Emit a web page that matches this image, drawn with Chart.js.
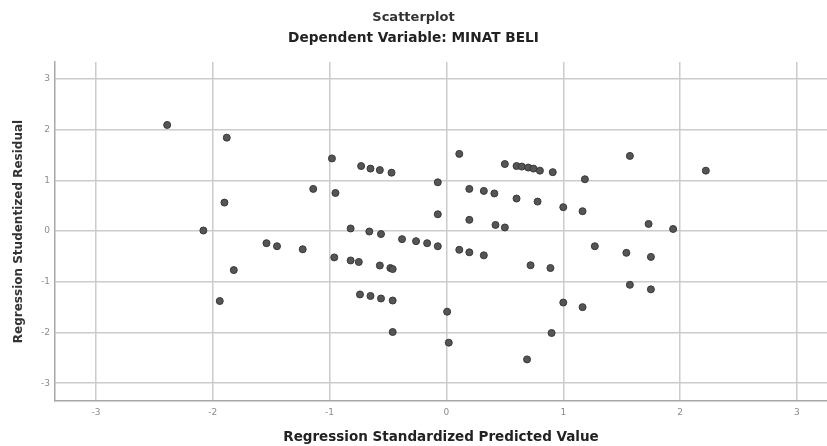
<!DOCTYPE html>
<html>
<head>
<meta charset="utf-8">
<title>Scatterplot</title>
<script src="https://cdn.jsdelivr.net/npm/chart.js@4"></script>
<style>
  html, body { margin: 0; padding: 0; background: #fff; }
  #wrap { width: 827px; height: 446px; }
</style>
</head>
<body>
<div id="wrap"><canvas id="myChart" width="827" height="446"></canvas></div>
<script>
// values
const predicted = [
  -2.39, -1.88, -0.98, -1.14, -0.95, -1.90, -2.08, -1.54, -1.45, -1.23,
  -1.82, -1.94, -0.96, -0.82, -0.75, -0.57, -0.48, -0.46, -0.74, -0.65,
  -0.56, -0.46, -0.46, -0.82, -0.66, -0.56, -0.38, -0.26, -0.165, -0.074,
  -0.73, -0.65, -0.57, -0.47, 0.11, -0.074, 0.196, 0.32, -0.074, 0.196,
  0.11, 0.196, 0.32, 0.50, 0.60, 0.645, 0.70, 0.745, 0.80, 0.91,
  1.185, 0.41, 0.60, 0.78, 1.0, 1.165, 0.42, 0.50, 1.27, 0.72,
  0.89, 0.006, 0.02, 1.0, 1.165, 0.90, 0.69, 1.57, 1.57, 2.22,
  1.73, 1.94, 1.54, 1.75, 1.75
];
const residual = [
  2.09, 1.84, 1.43, 0.83, 0.75, 0.56, 0.01, -0.24, -0.30, -0.36,
  -0.77, -1.38, -0.52, -0.58, -0.61, -0.68, -0.73, -0.75, -1.25, -1.28,
  -1.33, -1.37, -1.99, 0.05, -0.01, -0.06, -0.16, -0.20, -0.24, -0.30,
  1.28, 1.23, 1.20, 1.15, 1.52, 0.96, 0.83, 0.79, 0.33, 0.22,
  -0.37, -0.42, -0.48, 1.32, 1.28, 1.27, 1.25, 1.23, 1.19, 1.16,
  1.02, 0.74, 0.64, 0.58, 0.47, 0.39, 0.12, 0.07, -0.30, -0.675,
  -0.73, -1.59, -2.20, -1.41, -1.50, -2.01, -2.53, -1.06, 1.48, 1.19,
  0.14, 0.04, -0.43, -0.51, -1.15
];
const xTicks = [-3, -2, -1, 0, 1, 2, 3];
const yTicks = [-3, -2, -1, 0, 1, 2, 3];

const points = [];
for (let i = 0; i < predicted.length; i++) {
  points.push({ x: predicted[i], y: residual[i] });
}

// keep the plot area flush with the canvas edges (no label padding)
function noPad(scale) {
  scale.paddingLeft = 0;
  scale.paddingRight = 0;
  scale.paddingTop = 0;
  scale.paddingBottom = 0;
}

const ctx = document.getElementById('myChart').getContext('2d');
new Chart(ctx, {
  type: 'scatter',
  data: {
    datasets: [{
      label: 'MINAT BELI',
      data: points,
      pointRadius: 3.5,
      pointHoverRadius: 3.5,
      backgroundColor: '#555555',
      borderColor: '#383838',
      borderWidth: 1
    }]
  },
  options: {
    responsive: false,
    animation: false,
    layout: { padding: 0, autoPadding: false },
    plugins: {
      legend: { display: false },
      tooltip: { enabled: false },
      title: {
        display: true,
        text: 'Scatterplot',
        color: '#333',
        font: { family: 'DejaVu Sans', size: 13, weight: 'bold' },
        padding: { top: 10.2, bottom: 4 }
      },
      subtitle: {
        display: true,
        text: 'Dependent Variable: MINAT BELI',
        color: '#222',
        font: { family: 'DejaVu Sans', size: 13.7, weight: 'bold' },
        padding: { top: 0, bottom: 15.8 }
      }
    },
    scales: {
      x: {
        type: 'linear',
        min: -3.35,
        max: 3.257,
        afterFit: (scale) => { scale.height = 45; noPad(scale); },
        afterBuildTicks: (scale) => { scale.ticks = xTicks.map(v => ({ value: v })); },
        ticks: {
          includeBounds: false,
          padding: 6,
          color: '#8c8c8c',
          font: { family: 'DejaVu Sans', size: 9 },
          callback: (v) => String(v)
        },
        grid: { color: '#cccccc', lineWidth: 1.5, drawTicks: false },
        border: { display: true, color: '#a8a8a8', width: 1.5 },
        title: {
          display: true,
          text: 'Regression Standardized Predicted Value',
          color: '#222',
          font: { family: 'DejaVu Sans', size: 13.5, weight: 'bold' },
          padding: { top: 0, bottom: 0.9 }
        }
      },
      y: {
        type: 'linear',
        min: -3.35,
        max: 3.33,
        afterFit: (scale) => { scale.width = 55; noPad(scale); },
        afterBuildTicks: (scale) => { scale.ticks = yTicks.map(v => ({ value: v })); },
        ticks: {
          includeBounds: false,
          padding: 5,
          color: '#8c8c8c',
          font: { family: 'DejaVu Sans', size: 9 },
          callback: (v) => String(v)
        },
        grid: { color: '#cccccc', lineWidth: 1.5, drawTicks: false },
        border: { display: true, color: '#a8a8a8', width: 1.5 },
        title: {
          display: true,
          text: 'Regression Studentized Residual',
          color: '#333',
          font: { family: 'DejaVu Sans', size: 12, weight: 'bold' },
          padding: { top: 11.8, bottom: 0 }
        }
      }
    }
  }
});
</script>
</body>
</html>
